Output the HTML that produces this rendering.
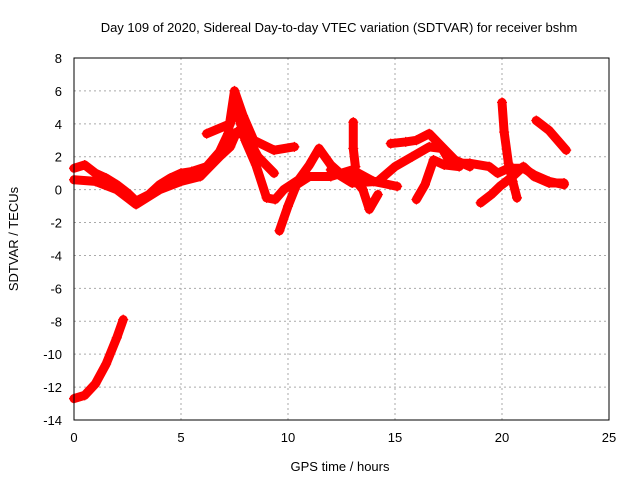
<!DOCTYPE html>
<html><head><meta charset="utf-8"><style>
body{margin:0;background:#fff;}
svg text{font-family:"Liberation Sans",sans-serif;font-size:13px;fill:#000;}
</style></head><body>
<svg id="chart" width="640" height="480" xmlns="http://www.w3.org/2000/svg">
<text x="339" y="32" text-anchor="middle">Day 109 of 2020, Sidereal Day-to-day VTEC variation (SDTVAR) for receiver bshm</text>
<text x="340" y="471" text-anchor="middle">GPS time / hours</text>
<text transform="translate(18,239) rotate(-90)" text-anchor="middle">SDTVAR / TECUs</text>
<g id="grid"></g>
<g id="series"></g>
<rect x="74" y="58" width="535" height="362" fill="none" stroke="#000" stroke-width="1"/>
</svg>
<script>
const xTicks=[0,5,10,15,20,25];
const yTicks=[8,6,4,2,0,-2,-4,-6,-8,-10,-12,-14];
const trackA=[[0,-12.7],[0.5,-12.5],[1,-11.8],[1.5,-10.6],[2,-9],[2.3,-7.9]];
const trackB=[[0,1.3],[0.5,1.5],[1,1.0],[1.5,0.7],[2,0.3],[2.5,-0.2],[2.9,-0.7],[3.5,-0.3],[4,0.3],[4.5,0.7],[5,1.0],[5.5,1.1],[6.2,1.4],[6.8,2.3],[7.2,3.4],[7.5,6.0],[7.9,4.5],[8.4,3.0],[9.35,2.4],[10.3,2.6]];
const trackC=[[0,0.6],[1,0.5],[2,0.0],[2.9,-0.9],[4,0.0],[5,0.5],[5.9,0.8],[6.2,1.2],[6.8,2.0],[7.3,2.6],[7.6,3.5],[8.1,3.2],[8.6,2.0],[9.35,1.0]];
const trackD=[[6.2,3.4],[7.3,4.0],[7.5,5.3],[8.0,3.0],[8.5,1.5],[9.0,-0.5],[9.4,-0.6],[9.8,0],[10.5,0.6],[11.0,1.5],[11.45,2.5],[12.0,1.5],[12.6,0.8],[13.0,0.8],[13.5,0.0],[13.8,-1.2],[14.2,-0.3]];
const trackF=[[9.6,-2.5],[10,-1.0],[10.4,0.3],[11,0.8],[12,0.8],[13,1.2],[14,0.5],[15.1,0.2]];
const trackE=[[12,1.2],[13,0.4],[14.2,0.5],[15,1.4],[15.8,2.0],[16.6,2.6],[17.2,2.5],[17.6,1.6],[18.5,1.6],[19.4,1.4],[19.8,1.0],[20.3,1.3],[21,1.3],[21.5,0.9],[22.2,0.5],[22.9,0.3]];
const trackG=[[13.05,4.1],[13.05,2.5],[13.15,1.4]];
const trackH=[[14.8,2.8],[15.5,2.9],[16,3.0],[16.6,3.4],[17.2,2.6],[17.8,1.8],[18.5,1.4]];
const trackI=[[16,-0.6],[16.4,0.3],[16.8,1.8],[17.3,1.5],[18,1.4]];
const trackJ=[[19,-0.8],[19.5,-0.3],[19.9,0.2],[20.5,0.8],[21,1.4],[21.5,0.8],[22.2,0.4],[22.9,0.4]];
const trackK=[[20.0,5.3],[20.1,3.5],[20.3,1.6],[20.5,0.5],[20.7,-0.5]];
const trackL=[[21.6,4.2],[22.2,3.6],[22.6,3.0],[23.0,2.4]];
const tracks=[trackA,trackB,trackC,trackD,trackE,trackF,trackG,trackH,trackI,trackJ,trackK,trackL];
const NS="http://www.w3.org/2000/svg";
const X=v=>74+(v/25)*535;
const Y=v=>58+(8-v)/22*362;
const grid=document.getElementById('grid'),svg=document.getElementById('chart'),ser=document.getElementById('series');
function mk(t,a,p){const e=document.createElementNS(NS,t);for(const k in a)e.setAttribute(k,a[k]);p.appendChild(e);return e;}
xTicks.forEach(v=>{
 const l=mk('line',{x1:X(v),x2:X(v),y1:58,y2:420,stroke:'#aaa','stroke-dasharray':'2,3'},grid);
 
 
 const t=mk('text',{x:X(v),y:442,'text-anchor':'middle'},svg);t.textContent=v;
 
 
});
yTicks.forEach(v=>{
 const l=mk('line',{x1:74,x2:609,y1:Y(v),y2:Y(v),stroke:'#aaa','stroke-dasharray':'2,3'},grid);
 
 
 const t=mk('text',{x:62,y:Y(v)+5,'text-anchor':'end'},svg);t.textContent=v;
 
 
});
tracks.forEach(tr=>{
 const pl=mk('polyline',{points:tr.map(p=>X(p[0])+','+Y(p[1])).join(' '),fill:'none',stroke:'#f00','stroke-width':9,'stroke-linejoin':'round','stroke-linecap':'round'},ser);
 
 
 tr.forEach(p=>{
  const x=X(p[0]),y=Y(p[1]);
  const m=mk('path',{d:`M${x-5},${y}H${x+5}M${x},${y-5}V${y+5}`,stroke:'#f00','stroke-width':1.2},ser);
  
  
 });
});
</script>
</body></html>
